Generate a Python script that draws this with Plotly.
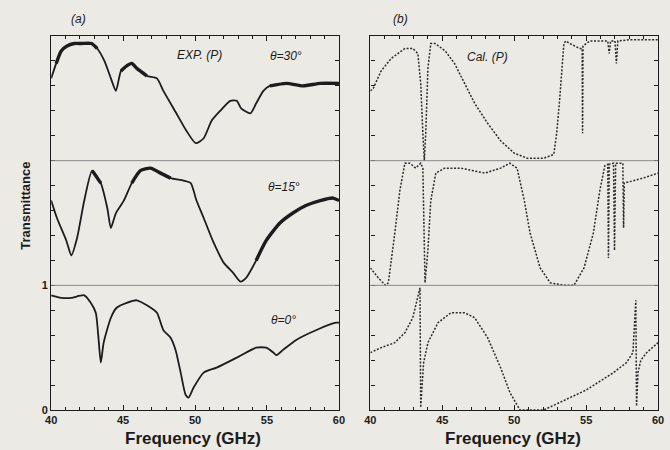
import plotly.graph_objects as go

# ---------------- data ----------------
# Panel (a): experiment, P polarisation
f_exp30 = [40.0, 40.35, 40.7, 41.1, 41.6, 42.1, 42.8, 43.2, 43.7, 44.15, 44.5, 44.85, 45.25, 45.6, 45.95, 46.65,
           47.35, 47.8, 48.7, 49.4, 50.05, 50.6, 51.15, 51.75, 52.45, 52.9, 53.2, 53.85, 54.25, 54.75, 55.2,
           56.35, 57.5, 58.7, 60.0]
t_exp30 = [0.66, 0.78, 0.88, 0.92, 0.94, 0.94, 0.94, 0.90, 0.80, 0.66, 0.56, 0.72, 0.76, 0.78, 0.74, 0.68,
           0.66, 0.56, 0.38, 0.24, 0.14, 0.18, 0.32, 0.40, 0.48, 0.48, 0.42, 0.38, 0.46, 0.56, 0.60,
           0.62, 0.60, 0.62, 0.62]

f_exp15 = [40.0, 40.4, 41.05, 41.4, 41.8, 42.3, 42.85, 43.45, 43.9, 44.15, 44.5, 45.05, 45.6, 46.2, 46.9, 47.6,
           48.3, 49.2, 49.7, 50.1, 50.6, 51.3, 52.0, 52.65, 53.15, 53.55, 54.25, 54.95, 55.9, 56.8, 57.7,
           58.7, 59.6, 60.0]
t_exp15 = [0.68, 0.54, 0.36, 0.24, 0.38, 0.68, 0.92, 0.82, 0.62, 0.46, 0.58, 0.68, 0.82, 0.92, 0.94, 0.90,
           0.86, 0.84, 0.82, 0.68, 0.54, 0.34, 0.18, 0.10, 0.03, 0.06, 0.20, 0.36, 0.50, 0.58, 0.64,
           0.68, 0.70, 0.68]

f_exp0 = [40.0, 40.7, 41.4, 42.3, 42.75, 43.1, 43.3, 43.45, 43.65, 44.15, 44.55, 45.25, 45.95, 46.65, 47.35,
          47.8, 48.3, 48.65, 49.0, 49.35, 49.55, 49.9, 50.6, 51.5, 52.9, 54.25, 54.95, 55.45, 55.65, 56.1,
          57.0, 58.4, 59.8, 60.0]
t_exp0 = [0.92, 0.90, 0.90, 0.92, 0.86, 0.78, 0.56, 0.38, 0.54, 0.74, 0.82, 0.86, 0.88, 0.84, 0.78,
          0.64, 0.58, 0.48, 0.30, 0.12, 0.10, 0.18, 0.30, 0.34, 0.42, 0.50, 0.50, 0.46, 0.44, 0.48,
          0.56, 0.64, 0.70, 0.70]

# Panel (b): calculation, P polarisation
f_cal30 = [40.0, 40.2, 40.75, 41.45, 42.4, 42.95, 43.3, 43.5, 43.65, 43.75, 43.85, 44.0, 44.2, 44.5, 45.2,
           45.85, 46.55, 47.25, 48.15, 49.05, 50.0, 50.9, 52.05, 52.75, 52.95, 53.15, 53.45, 53.6, 53.85,
           54.55, 54.72, 54.75, 54.78, 55.25, 56.5, 56.6, 56.7, 57.0, 57.1, 57.2, 58.0, 60.0]
t_cal30 = [0.56, 0.58, 0.72, 0.82, 0.90, 0.90, 0.86, 0.62, 0.22, 0.0, 0.22, 0.74, 0.94, 0.94, 0.88,
           0.78, 0.62, 0.46, 0.30, 0.16, 0.06, 0.02, 0.02, 0.05, 0.22, 0.48, 0.94, 0.96, 0.94,
           0.90, 0.90, 0.22, 0.92, 0.96, 0.96, 0.86, 0.96, 0.96, 0.78, 0.96, 0.97, 0.97]

f_cal15 = [40.0, 40.55, 41.05, 41.25, 41.7, 42.05, 42.4, 42.75, 43.15, 43.5, 43.65, 43.8, 44.0, 44.2, 44.55,
           45.15, 46.3, 47.95, 49.05, 49.7, 50.2, 50.7, 51.1, 51.8, 52.5, 53.45, 54.15, 54.85, 55.5, 55.95,
           56.3, 56.5, 56.55, 56.6, 56.9, 56.97, 57.05, 57.55, 57.6, 57.65, 58.95, 60.0]
t_cal15 = [0.14, 0.06, 0.0, 0.02, 0.42, 0.76, 0.98, 0.98, 0.94, 0.98, 0.94, 0.02, 0.28, 0.68, 0.90,
           0.94, 0.94, 0.90, 0.94, 0.98, 0.94, 0.68, 0.42, 0.14, 0.02, 0.0, 0.0, 0.14, 0.42, 0.76,
           0.96, 0.97, 0.22, 0.97, 0.98, 0.28, 0.98, 0.98, 0.46, 0.82, 0.86, 0.90]

f_cal0 = [40.0, 40.75, 41.7, 42.4, 42.95, 43.3, 43.45, 43.5, 43.6, 43.7, 44.0, 44.7, 45.6, 46.55, 47.25,
          48.15, 49.05, 49.7, 50.4, 51.4, 52.05, 53.15, 55.0, 56.9, 57.8, 58.25, 58.45, 58.5, 58.6, 58.8,
          59.2, 60.0]
t_cal0 = [0.46, 0.50, 0.54, 0.62, 0.74, 0.90, 0.98, 0.02, 0.25, 0.38, 0.54, 0.70, 0.78, 0.78, 0.74,
          0.58, 0.34, 0.14, 0.0, 0.0, 0.0, 0.06, 0.16, 0.30, 0.38, 0.46, 0.88, 0.03, 0.30, 0.40,
          0.46, 0.54]

angles = ["\u03b8=30\u00b0", "\u03b8=15\u00b0", "\u03b8=0\u00b0"]
offsets = [2, 1, 0]  # vertical stacking of the three curves
# frequency ranges where the measured trace is visibly noisy (drawn thicker)
noisy_ranges = [[(40.3, 43.3), (44.8, 46.7), (54.9, 60.0)],
                [(42.5, 43.5), (45.3, 48.4), (53.8, 60.0)],
                []]

x_ticks = [40, 45, 50, 55, 60]
y_tickvals = [round(i * 0.2, 1) for i in range(16)]
y_ticktext = ["0" if v == 0 else ("1" if v == 1 else "") for v in y_tickvals]

# ---------------- figure ----------------
BG = "#ebeae5"
INK = "#1c1c1c"
FONT = "Liberation Sans"
W, H = 670, 450
MT, MB = 36, 40

fig = go.Figure()

exp_sets = [(f_exp30, t_exp30), (f_exp15, t_exp15), (f_exp0, t_exp0)]
cal_sets = [(f_cal30, t_cal30), (f_cal15, t_cal15), (f_cal0, t_cal0)]

for (f, t), off, ranges in zip(exp_sets, offsets, noisy_ranges):
    y = [v + off for v in t]
    fig.add_trace(go.Scatter(x=f, y=y, mode="lines", xaxis="x", yaxis="y",
                             line=dict(color=INK, width=1.8, shape="spline", smoothing=0.6),
                             showlegend=False, hoverinfo="skip"))
    for a, b in ranges:
        xs = [fx for fx in f if a <= fx <= b]
        ys = [yv for fx, yv in zip(f, y) if a <= fx <= b]
        fig.add_trace(go.Scatter(x=xs, y=ys, mode="lines", xaxis="x", yaxis="y",
                                 line=dict(color=INK, width=3.4, shape="spline", smoothing=0.6),
                                 showlegend=False, hoverinfo="skip"))

for (f, t), off in zip(cal_sets, offsets):
    y = [v + off for v in t]
    fig.add_trace(go.Scatter(x=f, y=y, mode="lines", xaxis="x2", yaxis="y2",
                             line=dict(color="#2a2a2a", width=1.5, dash="2px,1.6px"),
                             showlegend=False, hoverinfo="skip"))

axis_common = dict(showline=True, linecolor=INK, linewidth=1.4, mirror="ticks",
                   ticks="inside", tickcolor=INK, showgrid=False, zeroline=False)

xaxis_common = dict(axis_common, range=[40, 60], tickvals=x_ticks, ticklen=5, tickwidth=1.3,
                    tickfont=dict(family=FONT, size=11, color=INK, weight="bold"),
                    minor=dict(dtick=1, ticks="inside", ticklen=3, tickcolor=INK, tickwidth=1.1,
                               showgrid=False))
yaxis_common = dict(axis_common, range=[0, 3], tickmode="array", tickvals=y_tickvals,
                    ticktext=y_ticktext, ticklen=4, tickwidth=1.2,
                    tickfont=dict(family=FONT, size=11, color=INK, weight="bold"))

fig.update_layout(
    width=W, height=H,
    margin=dict(l=0, r=0, t=MT, b=MB),
    paper_bgcolor=BG, plot_bgcolor=BG,
    xaxis=dict(xaxis_common, domain=[46 / W, 339 / W], anchor="y"),
    yaxis=dict(yaxis_common, domain=[0, 1], anchor="x"),
    xaxis2=dict(xaxis_common, domain=[371 / W, 664 / W], anchor="y2"),
    yaxis2=dict(yaxis_common, domain=[0, 1], anchor="x2", showticklabels=False),
)

# thin separator lines between stacked curves
for xr, yr in [("x domain", "y"), ("x2 domain", "y2")]:
    for off in offsets[:-1]:
        fig.add_shape(type="line", xref=xr, yref=yr, x0=0, x1=1, y0=off, y1=off,
                      line=dict(color="#8a8a8a", width=1))


def txt(x, y, s, size=12, italic=False, bold=False, angle=0, xanchor="center"):
    # x, y are pixel positions in the 670x450 picture; convert to paper coords
    fig.add_annotation(x=x / W, y=1 - (y - MT) / (H - MT - MB), xref="paper", yref="paper", text=s,
                       showarrow=False, textangle=angle, xanchor=xanchor, yanchor="middle",
                       font=dict(family=FONT, size=size, color=INK,
                                 style="italic" if italic else "normal",
                                 weight="bold" if bold else "normal"))


txt(74, 19, "(a)", size=12, italic=True)
txt(402, 19, "(b)", size=12, italic=True)
txt(197, 55, "EXP. (P)", size=12, italic=True)
txt(490, 57, "Cal. (P)", size=12, italic=True)
label_pos = [(285, 56), (283, 187), (283, 320)]
for s, (lx, ly) in zip(angles, label_pos):
    txt(lx, ly, s, size=12, italic=True)
txt(19, 206, "Transmittance", size=13, bold=True, angle=-90)
txt(190, 438, "Frequency (GHz)", size=17, bold=True)
txt(516, 438, "Frequency (GHz)", size=17, bold=True)

fig.write_html("out.html")
